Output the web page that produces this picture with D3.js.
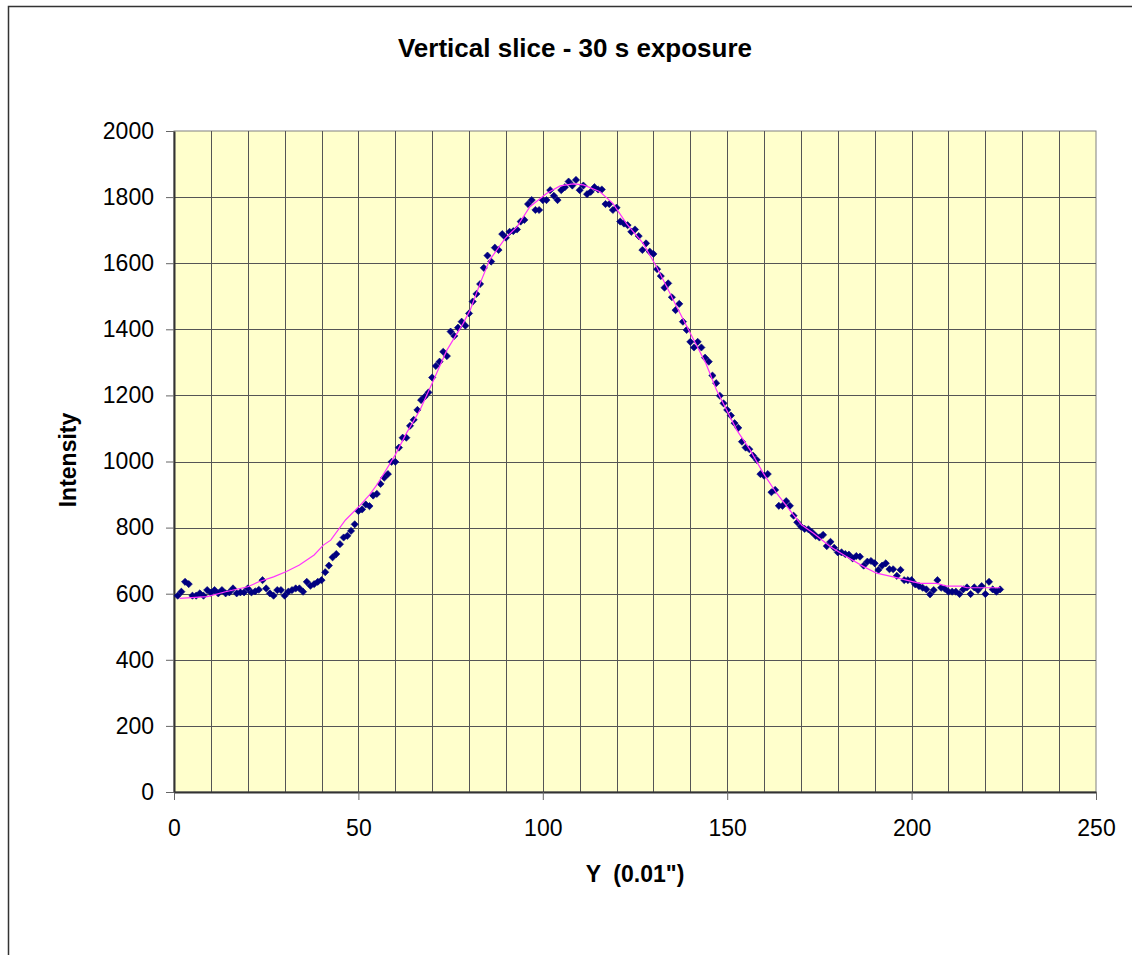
<!DOCTYPE html>
<html>
<head>
<meta charset="utf-8">
<script src="https://cdn.jsdelivr.net/npm/d3@7"></script>
<style>
body { margin: 0; background: #fff; }
text { font-family: Arial, "Liberation Sans", sans-serif; fill: #000; }
</style>
</head>
<body>
<svg id="chart" width="1132" height="955"></svg>
<script>
// measured intensity, one reading per 0.01" step starting at Y = 1
var intensity = [
    594, 606, 636, 629, 594, 594, 601, 594, 611, 603,
    611, 601, 611, 601, 604, 616, 601, 604, 604, 616,
    604, 607, 612, 641, 616, 601, 594, 611, 611, 594,
    606, 611, 616, 616, 606, 636, 624, 629, 636, 641,
    665, 685, 710, 720, 750, 770, 775, 790, 810, 850,
    855, 870, 865, 897, 902, 932, 951, 962, 999, 999,
    1042, 1072, 1072, 1108, 1126, 1156, 1186, 1196, 1209, 1254,
    1289, 1302, 1332, 1319, 1393, 1380, 1405, 1423, 1411, 1448,
    1484, 1507, 1537, 1586, 1623, 1605, 1647, 1640, 1688, 1677,
    1695, 1697, 1702, 1726, 1731, 1779, 1791, 1761, 1761, 1791,
    1791, 1821, 1804, 1791, 1821, 1830, 1847, 1835, 1852, 1821,
    1835, 1809, 1816, 1830, 1823, 1823, 1779, 1779, 1761, 1768,
    1726, 1720, 1715, 1695, 1702, 1682, 1640, 1660, 1635, 1628,
    1582, 1561, 1526, 1539, 1497, 1458, 1477, 1423, 1398, 1362,
    1345, 1362, 1345, 1314, 1302, 1260, 1237, 1199, 1176, 1156,
    1139, 1116, 1102, 1060, 1042, 1037, 1018, 1005, 962, 957,
    962, 907, 914, 866, 866, 880, 866, 836, 816, 803,
    796, 795, 786, 775, 770, 778, 744, 757, 739, 725,
    725, 720, 718, 707, 714, 712, 685, 697, 699, 692,
    672, 685, 692, 674, 674, 654, 672, 641, 641, 641,
    628, 623, 618, 613, 598, 611, 641, 618, 615, 606,
    606, 606, 599, 613, 619, 599, 619, 611, 623, 599,
    636, 613, 606, 613
];
var firstY = 1;

// smooth fit curve (pink line)
var fitX = [1.5, 9, 14, 20, 23, 27, 30.5, 34, 38, 40.5,
    42.5, 46.5, 50.5, 53, 55, 60, 63, 66.7, 70, 74,
    78.4, 80.3, 83, 85.6, 89.8, 93, 96.5, 101, 104.7, 108.3,
    111, 115.5, 119, 122.7, 127.2, 129, 130.8, 133.6, 136.3, 140,
    144.2, 145.3, 147.1, 152.6, 156.2, 159.8, 163.4, 168, 170.2, 173.4,
    178, 182.4, 187, 190.5, 195, 200.5, 202.3, 206.8, 209.5, 213.5,
    215, 219.5, 224];
var fitV = [586, 591, 606, 621, 636, 651, 667, 687, 717, 747,
    762, 823, 868, 899, 929, 1020, 1085, 1156, 1237, 1337,
    1418, 1458, 1539, 1610, 1675, 1710, 1771, 1811, 1834, 1840,
    1837, 1816, 1781, 1720, 1660, 1625, 1590, 1529, 1468, 1388,
    1297, 1267, 1216, 1095, 1035, 964, 904, 838, 808, 783,
    742, 712, 682, 662, 651, 636, 631, 631, 623, 623,
    618, 618, 618];

var xTicks = [0, 50, 100, 150, 200, 250];
var yTicks = [0, 200, 400, 600, 800, 1000, 1200, 1400, 1600, 1800, 2000];
var xGrid = [10, 20, 30, 40, 50, 60, 70, 80, 90, 100, 110, 120, 130, 140, 150,
    160, 170, 180, 190, 200, 210, 220, 230, 240];

var svg = d3.select('#chart');
var plot = { left: 174, top: 131, right: 1096, bottom: 792 };

var x = d3.scaleLinear().domain([0, 250]).range([plot.left, plot.right]);
var y = d3.scaleLinear().domain([0, 2000]).range([plot.bottom, plot.top]);

// outer chart frame (runs off the right and bottom of the picture)
svg.append('rect')
    .attr('x', 8.5).attr('y', 6.5)
    .attr('width', 1400).attr('height', 1400)
    .attr('fill', 'none')
    .attr('stroke', '#333')
    .attr('stroke-width', 1.5);

// plot background
svg.append('rect')
    .attr('x', plot.left).attr('y', plot.top)
    .attr('width', plot.right - plot.left)
    .attr('height', plot.bottom - plot.top)
    .attr('fill', '#ffffcc')
    .attr('stroke', '#808080')
    .attr('stroke-width', 1);

// gridlines
var grid = svg.append('g').attr('stroke', '#555').attr('stroke-width', 1);
grid.selectAll('line.v').data(xGrid).enter().append('line')
    .attr('x1', function (d) { return Math.round(x(d)) + 0.5; })
    .attr('x2', function (d) { return Math.round(x(d)) + 0.5; })
    .attr('y1', plot.top).attr('y2', plot.bottom);
grid.selectAll('line.h').data(yTicks.slice(1, -1)).enter().append('line')
    .attr('y1', function (d) { return Math.round(y(d)) + 0.5; })
    .attr('y2', function (d) { return Math.round(y(d)) + 0.5; })
    .attr('x1', plot.left).attr('x2', plot.right);

// axes
var xAxis = d3.axisBottom(x).tickValues(xTicks).tickFormat(d3.format('d'))
    .tickSizeInner(8).tickSizeOuter(0).tickPadding(14);
var yAxis = d3.axisLeft(y).tickValues(yTicks).tickFormat(d3.format('d'))
    .tickSizeInner(8).tickSizeOuter(0).tickPadding(12);

var gx = svg.append('g').attr('transform', 'translate(0,' + plot.bottom + ')').call(xAxis);
var gy = svg.append('g').attr('transform', 'translate(' + plot.left + ',0)').call(yAxis);

[gx, gy].forEach(function (g) {
    g.select('.domain').attr('stroke', '#333').attr('stroke-width', 2);
    g.selectAll('.tick line').attr('stroke', '#666');
    g.selectAll('.tick text')
        .style('font-family', 'Arial, "Liberation Sans", sans-serif')
        .style('font-size', '23px')
        .attr('fill', '#000');
});
gx.selectAll('.tick text').attr('dy', '0.95em');

// fitted curve
var line = d3.line()
    .x(function (d) { return x(d[0]); })
    .y(function (d) { return y(d[1]); });

// measured points
var diamond = 'M0,-3.6L3.6,0L0,3.6L-3.6,0Z';
svg.append('g').selectAll('path').data(intensity).enter().append('path')
    .attr('d', diamond)
    .attr('transform', function (d, i) {
        return 'translate(' + x(i + firstY) + ',' + y(d) + ')';
    })
    .attr('fill', '#000080')
    .attr('stroke', '#000080')
    .attr('stroke-width', 0.6);

svg.append('path')
    .datum(d3.zip(fitX, fitV))
    .attr('d', line)
    .attr('fill', 'none')
    .attr('stroke', '#ff33ff')
    .attr('stroke-width', 1.2);

// titles
svg.append('text')
    .attr('x', 575).attr('y', 57)
    .attr('text-anchor', 'middle')
    .style('font-size', '26px')
    .style('font-weight', 'bold')
    .text('Vertical slice - 30 s exposure');

svg.append('text')
    .attr('x', 635).attr('y', 882)
    .attr('text-anchor', 'middle')
    .style('font-size', '23px')
    .style('font-weight', 'bold')
    .style('white-space', 'pre')
    .text('Y  (0.01")');

svg.append('text')
    .attr('transform', 'translate(76,460) rotate(-90)')
    .attr('text-anchor', 'middle')
    .style('font-size', '23px')
    .style('font-weight', 'bold')
    .text('Intensity');
</script>
</body>
</html>
